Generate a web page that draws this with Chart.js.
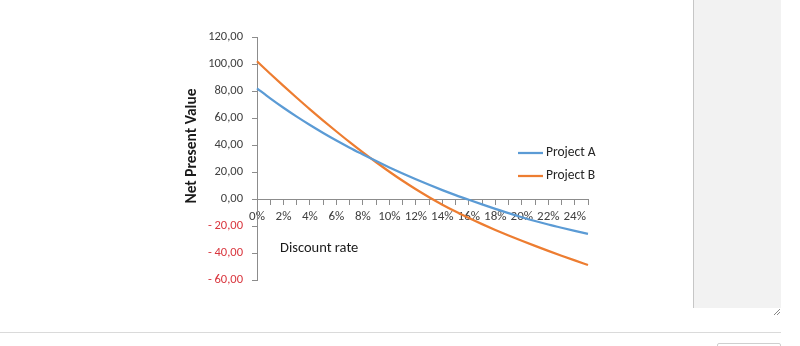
<!DOCTYPE html>
<html><head><meta charset="utf-8">
<script src="https://cdn.jsdelivr.net/npm/chart.js@4"></script>
<style>
html,body{margin:0;padding:0;background:#fff;width:800px;height:346px;overflow:hidden;}
body{position:relative;}
#c{position:absolute;left:0;top:0;}
.panel{position:absolute;left:693px;top:0;width:87px;height:308px;background:#f2f2f2;border-left:1px solid #c6c6c6;}
.hline{position:absolute;left:0;top:332px;width:781px;height:1px;background:#dadada;}
.btn{position:absolute;left:717px;top:343px;width:62px;height:12px;border:1px solid #cfcfcf;border-radius:2px;background:#fff;}
.grip{position:absolute;left:772px;top:307px;}
</style></head><body>
<div class="panel"></div>
<svg class="grip" width="9" height="9"><path d="M2 8 L8 2 M5 8 L8 5" stroke="#888" stroke-width="1"/></svg>
<div class="hline"></div>
<div class="btn"></div>
<canvas id="c" width="800" height="346"></canvas>
<script>
const rateLabels = ['0%','1%','2%','3%','4%','5%','6%','7%','8%','9%','10%','11%','12%','13%','14%','15%','16%','17%','18%','19%','20%','21%','22%','23%','24%','25%'];
const projectA = [82.0,74.6,67.6,61.0,54.8,48.9,43.3,38.0,33.0,28.1,23.4,18.9,14.6,10.5,6.6,2.9,-0.6,-4.0,-7.3,-10.5,-13.5,-16.3,-18.9,-21.3,-23.6,-25.8];
const projectB = [102.0,92.8,83.8,75.0,66.4,58.1,50.0,42.1,34.5,27.2,20.2,13.5,7.2,1.3,-4.2,-9.3,-14.1,-18.6,-22.9,-27.0,-30.9,-34.7,-38.4,-42.0,-45.5,-48.9];
const seriesNames = ['Project A','Project B'];
const seriesColors = ['#5b9bd5','#ed7d31'];
const yTickValues = [120,100,80,60,40,20,0,-20,-40,-60];
const yAxisTitle = 'Net Present Value';
const xAxisTitle = 'Discount rate';

const FONT = 'Carlito, Calibri, Lato, sans-serif';
function fmt(v){
  const s = Math.abs(v).toFixed(2).replace('.', ',');
  return v < 0 ? '- ' + s : s;
}

const annot = {
  id:'annot',
  afterDraw(chart){
    const ctx = chart.ctx;
    ctx.save();
    ctx.translate(192,146);
    ctx.rotate(-Math.PI/2);
    ctx.font = 'bold 15.5px ' + FONT;
    ctx.fillStyle = '#1a1a1a';
    ctx.textAlign = 'center';
    ctx.textBaseline = 'middle';
    ctx.fillText(yAxisTitle,0,0);
    ctx.restore();

    ctx.save();
    ctx.font = '14.5px ' + FONT;
    ctx.fillStyle = '#1a1a1a';
    ctx.textAlign = 'left';
    ctx.textBaseline = 'middle';
    ctx.fillText(xAxisTitle,280,248);
    // legend
    const ys = [153,176];
    ctx.font = '13.5px ' + FONT;
    seriesNames.forEach((n,i)=>{
      ctx.strokeStyle = seriesColors[i];
      ctx.lineWidth = 2.25;
      ctx.beginPath();
      ctx.moveTo(518,ys[i]);
      ctx.lineTo(543,ys[i]);
      ctx.stroke();
      ctx.fillStyle = '#262626';
      ctx.fillText(n,546,ys[i]);
    });
    ctx.restore();
  }
};

new Chart(document.getElementById('c'),{
  type:'line',
  data:{
    labels: rateLabels,
    datasets:[
      {label:seriesNames[0],data:projectA,borderColor:seriesColors[0],backgroundColor:seriesColors[0]},
      {label:seriesNames[1],data:projectB,borderColor:seriesColors[1],backgroundColor:seriesColors[1]}
    ]
  },
  options:{
    responsive:false,
    animation:false,
    devicePixelRatio:1,
    layout:{padding:{left:0,right:212,top:37,bottom:66}},
    plugins:{legend:{display:false},tooltip:{enabled:false}},
    elements:{point:{radius:0},line:{borderWidth:2.25,cubicInterpolationMode:'monotone'}},
    scales:{
      x:{
        type:'category',
        position:{y:0},
        offset:false,
        grid:{display:true,drawOnChartArea:false,drawTicks:true,tickLength:5,color:'#8c8c8c'},
        border:{display:true,color:'#8c8c8c',width:1},
        ticks:{autoSkip:false,maxRotation:0,minRotation:0,padding:5,color:'#404040',
          font:{family:FONT,size:13},
          callback:(v,i)=> i%2===0 ? rateLabels[i] : ''}
      },
      y:{
        min:yTickValues[yTickValues.length-1],
        max:yTickValues[0],
        afterBuildTicks:s=>{s.ticks = yTickValues.map(v=>({value:v}));},
        afterFit:s=>{s.width = 257;},
        grid:{drawOnChartArea:false,drawTicks:true,tickLength:5,color:'#8c8c8c'},
        border:{display:true,color:'#8c8c8c',width:1},
        ticks:{padding:9,font:{family:FONT,size:12.5},
          color:c=> c.tick && c.tick.value < 0 ? '#d9363e' : '#404040',
          callback:v=>fmt(v)}
      }
    }
  },
  plugins:[annot]
});
</script>
</body></html>
